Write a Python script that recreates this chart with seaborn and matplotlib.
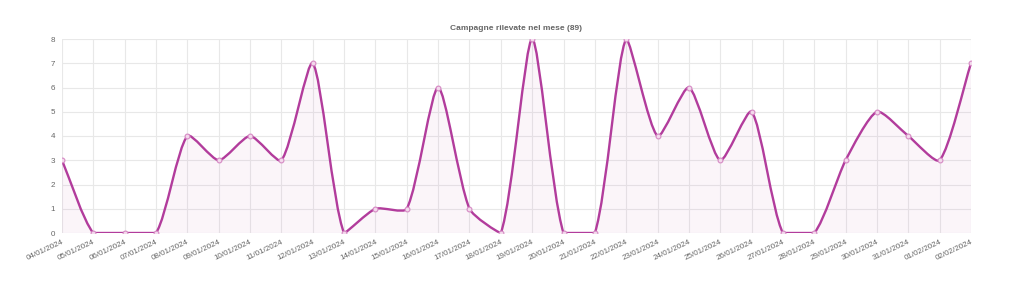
import numpy as np
import matplotlib
matplotlib.use("Agg")
import matplotlib.pyplot as plt
from matplotlib.path import Path
from matplotlib.patches import PathPatch
import seaborn as sns
import pandas as pd

dates = ["04/01/2024", "05/01/2024", "06/01/2024", "07/01/2024", "08/01/2024",
         "09/01/2024", "10/01/2024", "11/01/2024", "12/01/2024", "13/01/2024",
         "14/01/2024", "15/01/2024", "16/01/2024", "17/01/2024", "18/01/2024",
         "19/01/2024", "20/01/2024", "21/01/2024", "22/01/2024", "23/01/2024",
         "24/01/2024", "25/01/2024", "26/01/2024", "27/01/2024", "28/01/2024",
         "29/01/2024", "30/01/2024", "31/01/2024", "01/02/2024", "02/02/2024"]
counts = [3, 0, 0, 0, 4, 3, 4, 3, 7, 0, 1, 1, 6, 1, 0, 8, 0, 0, 8, 4, 6, 3, 5, 0, 0, 3, 5, 4, 3, 7]
title = "Campagne rilevate nel mese (89)"
y_ticks = [0, 1, 2, 3, 4, 5, 6, 7, 8]

sns.set_theme(style="white")
plt.rcParams['font.family'] = ['Liberation Sans', 'DejaVu Sans']

fig = plt.figure(figsize=(10.24, 3.06), dpi=100)
ax = fig.add_axes([62/1024, 1-233/306, 909/1024, 194/306])

df = pd.DataFrame({"x": np.arange(len(counts)), "y": counts})
LINE = "#b23c9c"

# Chart.js-style bezier smoothing (control points capped to the chart area)
xs = df["x"].to_numpy(float)
ys = df["y"].to_numpy(float)
sx, sy = 909/29, 194/8
t = 0.22
n = len(xs)
cp_prev = np.zeros((n, 2)); cp_next = np.zeros((n, 2))
for i in range(n):
    p1 = np.array([xs[i], ys[i]])
    p0 = np.array([xs[i-1], ys[i-1]]) if i > 0 else p1
    p2 = np.array([xs[i+1], ys[i+1]]) if i < n-1 else p1
    d01 = np.hypot((p1[0]-p0[0])*sx, (p1[1]-p0[1])*sy)
    d12 = np.hypot((p2[0]-p1[0])*sx, (p2[1]-p1[1])*sy)
    tot = d01 + d12
    s01 = d01/tot if tot else 0
    s12 = d12/tot if tot else 0
    fa, fb = t*s01, t*s12
    cp_prev[i] = p1 - fa*(p2-p0)
    cp_next[i] = p1 + fb*(p2-p0)
ymin, ymax = 0, 8
cp_prev[:, 1] = np.clip(cp_prev[:, 1], ymin, ymax)
cp_next[:, 1] = np.clip(cp_next[:, 1], ymin, ymax)
cp_prev[:, 0] = np.clip(cp_prev[:, 0], xs[0], xs[-1])
cp_next[:, 0] = np.clip(cp_next[:, 0], xs[0], xs[-1])

verts = [(xs[0], ys[0])]
codes = [Path.MOVETO]
for i in range(1, n):
    verts += [tuple(cp_next[i-1]), tuple(cp_prev[i]), (xs[i], ys[i])]
    codes += [Path.CURVE4]*3
line_path = Path(verts, codes)
fill_verts = verts + [(xs[-1], 0), (xs[0], 0), (xs[0], ys[0])]
fill_codes = codes + [Path.LINETO, Path.LINETO, Path.CLOSEPOLY]
ax.add_patch(PathPatch(Path(fill_verts, fill_codes), facecolor="#b23c9c", alpha=0.05,
                       edgecolor="none", zorder=1))
ax.add_patch(PathPatch(line_path, facecolor="none", edgecolor=LINE, lw=1.7, zorder=3,
                       capstyle="round", joinstyle="round"))

sns.scatterplot(data=df, x="x", y="y", ax=ax, s=12, color="#f3d9ec",
                edgecolor="#d68ac4", linewidth=0.8, zorder=4, legend=False)

ax.set_xlim(0, n-1)
ax.set_ylim(0, 8)
ax.set_xticks(np.arange(n))
ax.set_xticklabels(dates, rotation=25, ha="right", rotation_mode="anchor",
                   fontsize=5.8, color="#666666")
ax.set_yticks(y_ticks)
ax.set_yticklabels([str(v) for v in y_ticks], fontsize=5.8, color="#666666")
ax.tick_params(axis="x", pad=4, length=0)
ax.tick_params(axis="y", pad=5, length=0)
ax.grid(True, color="#e8e8e8", lw=0.8)
ax.set_axisbelow(True)
for s in ax.spines.values():
    s.set_visible(False)
ax.set_xlabel(""); ax.set_ylabel("")
fig.text(516/1024, 1-28/306, title, ha="center", va="center", fontsize=6,
         color="#666666", fontweight="bold")

fig.savefig("out.png", dpi=100, facecolor="white")
